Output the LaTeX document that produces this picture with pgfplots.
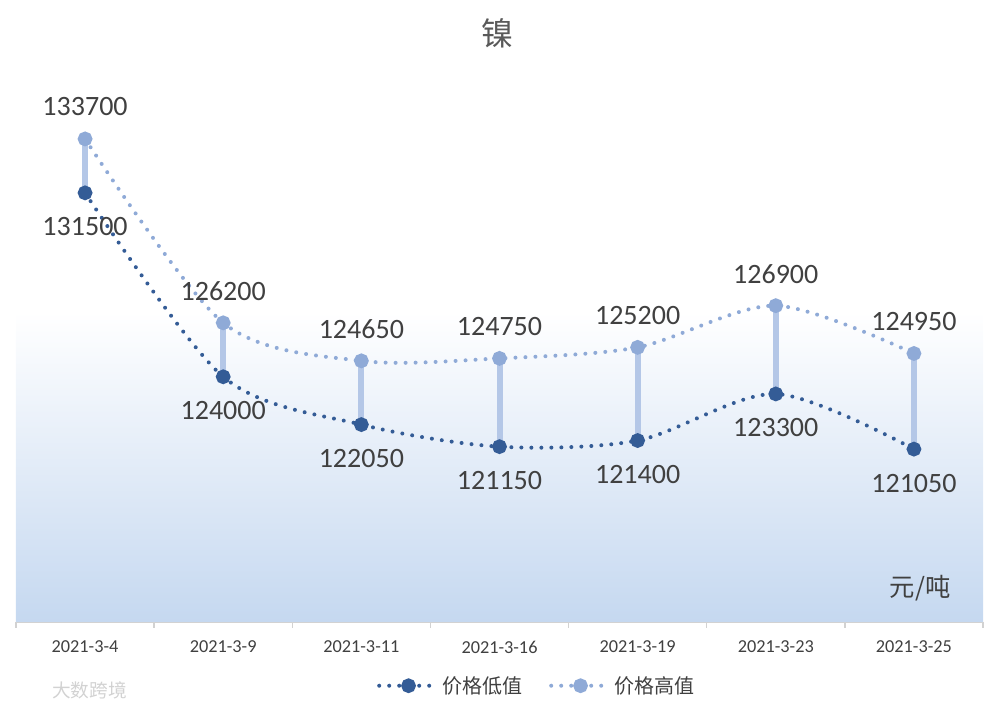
\documentclass[border=0pt]{standalone}
\usepackage{pgfplots}
\pgfplotsset{compat=1.18}
\usepackage{fontspec}
\setmainfont{Carlito}
\newfontfamily\cjk{Noto Sans CJK SC}

\definecolor{lowc}{RGB}{52,92,150}
\definecolor{highc}{RGB}{143,170,215}
\definecolor{hlc}{RGB}{180,199,231}
\definecolor{bgblue}{RGB}{197,216,240}
\definecolor{txt}{RGB}{64,64,64}
\definecolor{ttl}{RGB}{89,89,89}

\begin{document}
\begin{tikzpicture}
\path[use as bounding box] (0,0) rectangle (745.5pt,534pt);

\node[font=\cjk\fontsize{24}{24}\selectfont, text=ttl] at (372.75pt,509.25pt) {镍};
\node[font=\cjk\fontsize{14}{14}\selectfont, text=gray!35] at (67pt,16.5pt) {大数跨境};

\begin{axis}[
    at={(12pt,67.5pt)}, anchor=south west,
    scale only axis, width=725.25pt, height=423pt,
    xmin=-0.5, xmax=6.5, ymin=114000, ymax=137000,
    clip=false,
    axis y line=none, axis x line*=bottom,
    axis line style={draw=gray!35, line width=1.1pt, -},
    xtick={0,...,6},
    xticklabels={2021-3-4,2021-3-9,2021-3-11,2021-3-16,2021-3-19,2021-3-23,2021-3-25},
    major tick length=0pt,
    minor xtick={-0.5,0.5,...,6.5},
    minor tick length=4.5pt,
    tick align=outside,
    minor tick style={draw=gray!35, line width=1.1pt},
    xticklabel style={anchor=center, yshift=-18.75pt, font=\fontsize{13.7}{14}\selectfont, text=txt},
    legend style={at={(0.539,-0.113)}, anchor=center, draw=none, fill=none,
        font=\cjk\fontsize{15}{15}\selectfont, text=txt,
        /tikz/every even column/.append style={column sep=18pt}},
    legend columns=2,
    legend image code/.code={\draw[mark repeat=2,mark phase=2] plot coordinates {(0pt,0pt) (22pt,0pt) (44pt,0pt)};},
    /pgf/number format/assume math mode=true,
]
\fill[top color=white, bottom color=bgblue, draw=none] (rel axis cs:0,0) rectangle (rel axis cs:1,0.55);

% high-low lines
\addplot[forget plot, hlc, line width=4.5pt, unbounded coords=jump] coordinates {
    (0,131500) (0,133700) (0,nan)
    (1,124000) (1,126200) (1,nan)
    (2,122050) (2,124650) (2,nan)
    (3,121150) (3,124750) (3,nan)
    (4,121400) (4,125200) (4,nan)
    (5,123300) (5,126900) (5,nan)
    (6,121050) (6,124950)
};

% low
\addplot[lowc, smooth, line width=3pt, line cap=round, dash pattern=on 0pt off 7.5pt,
    mark=*, mark size=4pt, mark options={solid, fill=lowc, draw=lowc},
    nodes near coords={\pgfmathprintnumber[fixed,precision=0,1000 sep={}]{\pgfplotspointmeta}},
    nodes near coords style={anchor=center, yshift=-25.5pt, font=\fontsize{21}{21}\selectfont, text=txt}]
coordinates {(0,131500) (1,124000) (2,122050) (3,121150) (4,121400) (5,123300) (6,121050)};
\addlegendentry{价格低值}

% high
\addplot[highc, smooth, line width=3pt, line cap=round, dash pattern=on 0pt off 7.5pt,
    mark=*, mark size=4pt, mark options={solid, fill=highc, draw=highc},
    nodes near coords={\pgfmathprintnumber[fixed,precision=0,1000 sep={}]{\pgfplotspointmeta}},
    nodes near coords style={anchor=center, yshift=24pt, font=\fontsize{21}{21}\selectfont, text=txt}]
coordinates {(0,133700) (1,126200) (2,124650) (3,124750) (4,125200) (5,126900) (6,124950)};
\addlegendentry{价格高值}

\node[font=\cjk\fontsize{19}{19}\selectfont, text=txt] at (rel axis cs:0.935,0.06) {元/吨};
\end{axis}
\end{tikzpicture}
\end{document}
